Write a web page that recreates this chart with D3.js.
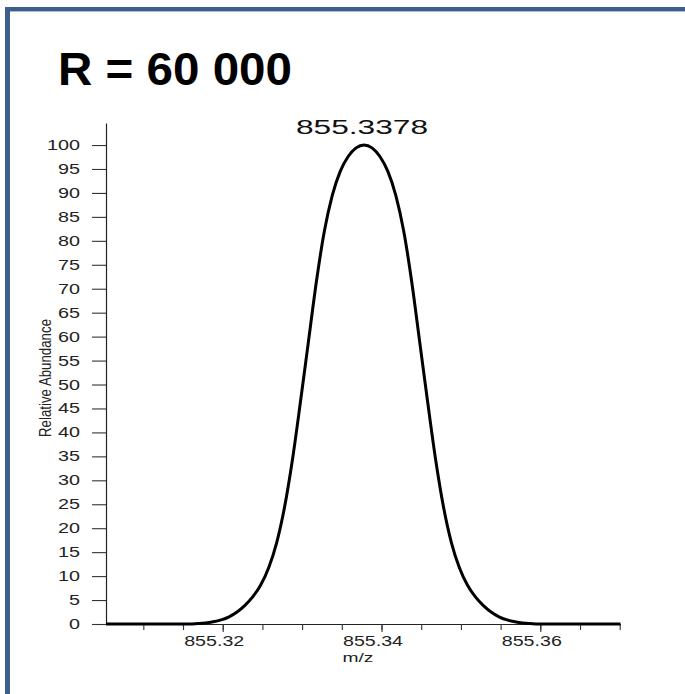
<!DOCTYPE html>
<html>
<head>
<meta charset="utf-8">
<script src="https://cdn.jsdelivr.net/npm/d3@7"></script>
<style>
  html, body { margin: 0; padding: 0; background: #fff; }
  svg { display: block; font-family: "Liberation Sans", Arial, sans-serif; }
</style>
</head>
<body>
<svg id="chart" width="685" height="694"></svg>
<script>
// ---- data ----
const titleText = "R = 60 000";
const peakLabel = "855.3378";
const peakMz = 855.3378;
const xLabel = "m/z";
const yLabel = "Relative Abundance";

const mzValues = [
  855.3053, 855.3158, 855.3168, 855.3178, 855.3188, 855.3198, 855.3208,
  855.3218, 855.3228, 855.3238, 855.3248, 855.3258, 855.3268, 855.3278, 855.3288,
  855.3298, 855.3308, 855.3318, 855.3328, 855.3338, 855.3348, 855.3358, 855.3368,
  855.3378, 855.3388, 855.3398, 855.3408, 855.3418, 855.3428, 855.3438, 855.3448,
  855.3458, 855.3468, 855.3478, 855.3488, 855.3498, 855.3508, 855.3518, 855.3528,
  855.3538, 855.3548, 855.3558, 855.3568, 855.3578, 855.3588, 855.3598,
  855.3701
];
const abundance = [
  0, 0, 0.08, 0.2, 0.45, 0.85, 1.5,
  2.5, 3.9, 5.7, 8.2, 11.8, 17, 24.5, 34.5,
  46.5, 59, 71.5, 82, 89.5, 94.5, 97.6, 99.4,
  100, 99.4, 97.6, 94.5, 89.5, 82, 71.5, 59,
  46.5, 34.5, 24.5, 17, 11.8, 8.2, 5.7, 3.9,
  2.5, 1.5, 0.85, 0.45, 0.2, 0.08, 0,
  0
];
const xDomain = [855.3053, 855.3701];
const yDomain = [0, 104.6];
const xMinorTicks = [855.31, 855.315, 855.32, 855.325, 855.33, 855.335, 855.34, 855.345, 855.35, 855.355, 855.36, 855.365, 855.37];
const xMajorTicks = [855.32, 855.34, 855.36];
const yTicks = [0, 5, 10, 15, 20, 25, 30, 35, 40, 45, 50, 55, 60, 65, 70, 75, 80, 85, 90, 95, 100];

// ---- layout ----
const svg = d3.select("#chart");
const plot = { left: 106, right: 620.5, top: 123, bottom: 624 };
const x = d3.scaleLinear().domain(xDomain).range([plot.left, plot.right]);
const y = d3.scaleLinear().domain(yDomain).range([plot.bottom, plot.top]);

// frame
svg.append("rect").attr("x", 5).attr("y", 7).attr("width", 680).attr("height", 4).attr("fill", "#3b5f8e");
svg.append("rect").attr("x", 5).attr("y", 11).attr("width", 680).attr("height", 1).attr("fill", "#a9bcd6");
svg.append("rect").attr("x", 5).attr("y", 7).attr("width", 5).attr("height", 687).attr("fill", "#3b5f8e");

// title
svg.append("text").attr("x", 58).attr("y", 85)
  .attr("font-size", 47).attr("font-weight", "bold").attr("fill", "#000")
  .attr("textLength", 234).attr("lengthAdjust", "spacingAndGlyphs")
  .text(titleText);

// y axis
const yAxis = d3.axisLeft(y).tickValues(yTicks).tickSize(14).tickPadding(12).tickSizeOuter(0);
const gy = svg.append("g").attr("transform", `translate(${plot.left},0)`).call(yAxis);
gy.select(".domain").attr("stroke", "#222").attr("stroke-width", 1.2);
gy.selectAll(".tick line").attr("stroke", "#333").attr("stroke-width", 1.1);
gy.selectAll(".tick text")
  .attr("font-family", "'Liberation Sans', Arial, sans-serif")
  .attr("font-size", 14).attr("fill", "#222")
  .attr("textLength", d => String(d).length * 11)
  .attr("lengthAdjust", "spacingAndGlyphs");

// x axis minor ticks
const xAxisMinor = d3.axisBottom(x).tickValues(xMinorTicks).tickSize(6).tickFormat("").tickSizeOuter(0);
const gx = svg.append("g").attr("transform", `translate(0,${plot.bottom})`).call(xAxisMinor);
gx.select(".domain").attr("stroke", "#222").attr("stroke-width", 1.2);
gx.selectAll(".tick line").attr("stroke", "#333").attr("stroke-width", 1.1);

const xAxisMajor = d3.axisBottom(x).tickValues(xMajorTicks).tickSize(8).tickPadding(4)
  .tickFormat(d3.format(".2f")).tickSizeOuter(0);
const gx2 = svg.append("g").attr("transform", `translate(0,${plot.bottom})`).call(xAxisMajor);
gx2.select(".domain").remove();
gx2.selectAll(".tick line").attr("stroke", "#333").attr("stroke-width", 1.1);
gx2.selectAll(".tick text")
  .attr("font-family", "'Liberation Sans', Arial, sans-serif")
  .attr("font-size", 14).attr("fill", "#222")
  .attr("x", -9)
  .attr("textLength", 60)
  .attr("lengthAdjust", "spacingAndGlyphs");

// axis titles
svg.append("text").attr("x", 358).attr("y", 662).attr("text-anchor", "middle")
  .attr("font-size", 13).attr("fill", "#222")
  .attr("textLength", 31).attr("lengthAdjust", "spacingAndGlyphs")
  .text(xLabel);

svg.append("text").attr("transform", "translate(51,378) rotate(-90) scale(1,1.4)")
  .attr("text-anchor", "middle").attr("font-size", 12).attr("fill", "#222")
  .attr("textLength", 118).attr("lengthAdjust", "spacingAndGlyphs")
  .text(yLabel);

// peak curve
const pts = mzValues.map((m, i) => [m, abundance[i]]);
const line = d3.line()
  .x(d => x(d[0]))
  .y(d => y(d[1]))
  .curve(d3.curveMonotoneX);
svg.append("path").datum(pts)
  .attr("d", line)
  .attr("fill", "none").attr("stroke", "#000").attr("stroke-width", 3)
  .attr("stroke-linejoin", "round");

// peak label
svg.append("text").attr("x", x(peakMz) - 2).attr("y", 134).attr("text-anchor", "middle")
  .attr("font-size", 20).attr("fill", "#111")
  .attr("textLength", 132).attr("lengthAdjust", "spacingAndGlyphs")
  .text(peakLabel);
</script>
</body>
</html>
